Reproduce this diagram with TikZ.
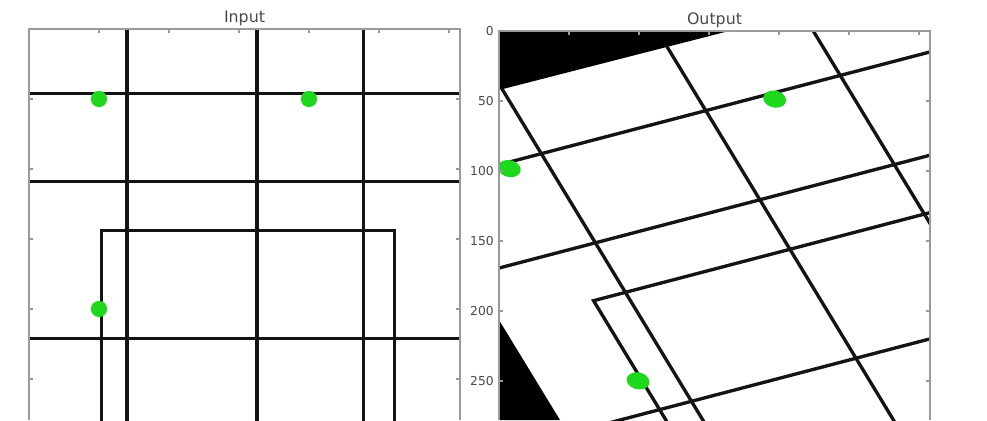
\documentclass[tikz,border=0pt]{standalone}
\usepackage{fontspec}
\setmainfont{DejaVu Sans}
\usepackage{tikz}
\definecolor{dotgreen}{HTML}{1ED81E}
\definecolor{axgray}{HTML}{9A9A9A}
\definecolor{labgray}{HTML}{4A4A4A}
\newcommand{\testgrid}{%
  \foreach \u in {70,163,239} \draw[gridline] (\u,0) -- (\u,400);
  \foreach \v in {46,109,221} \draw[gridline] (0,\v) -- (400,\v);
  \draw[gridline] (52,400) -- (52,144) -- (261,144) -- (261,400);
  \foreach \u/\v in {50/50,200/50,50/200}
    \fill[dotgreen] (\u,\v) circle[radius=5.8];
}

\begin{document}
\begin{tikzpicture}[x=0.02cm,y=-0.02cm,
  gridline/.style={line width=1.9pt,black!92},
  frame/.style={line width=1pt,axgray},
  tick/.style={line width=0.6pt,axgray},
  title/.style={anchor=base,labgray,font=\fontsize{9}{10}\selectfont},
  ticklab/.style={anchor=east,inner sep=0pt,labgray,font=\fontsize{7}{8}\selectfont}]
  \useasboundingbox (0,0) rectangle (987,420);
  \fill[white] (0,0) rectangle (987,420);

  % left panel
  \begin{scope}
    \clip (29,29) rectangle (460,420);
    \begin{scope}[shift={(29,29)},x={(0.028cm,0)},y={(0,-0.028cm)}]
      \testgrid
    \end{scope}
  \end{scope}
  \draw[frame] (29,420) -- (29,29) -- (460,29) -- (460,420);
  \foreach \k in {1,...,6} \draw[tick] ({29+70*\k},29) -- ++(0,4);
  \foreach \k in {1,...,5} {
    \draw[tick] (29,{29+70*\k}) -- ++(4,0);
    \draw[tick] (460,{29+70*\k}) -- ++(-4,0);
  }
  \node[title] (intitle) at (244.5,22) {Input};

  % right panel
  \begin{scope}
    \clip (499,31) rectangle (930,420);
    \fill[black] (499,31) -- (729,31) -- (499,90) -- cycle;
    \fill[black] (499,320) -- (560,420) -- (499,420) -- cycle;
    \begin{scope}[shift={(378,121)},x={(0.03538cm,0.00926cm)},y={(0.01716cm,-0.0283cm)}]
      \testgrid
    \end{scope}
  \end{scope}
  \draw[frame] (499,420) -- (499,31) -- (930,31) -- (930,420);
  \foreach \k in {1,...,6} \draw[tick] ({499+70*\k},31) -- ++(0,4);
  \foreach \k in {1,...,5} {
    \draw[tick] (499,{31+70*\k}) -- ++(4,0);
    \draw[tick] (930,{31+70*\k}) -- ++(-4,0);
  }
  \foreach \lab [count=\k from 0] in {0,50,100,150,200,250}
    \node[ticklab] (ylab\k) at (494,{31+70*\k}) {\lab};
  \node[title] (outtitle) at (714.5,24) {Output};
\end{tikzpicture}
\end{document}
